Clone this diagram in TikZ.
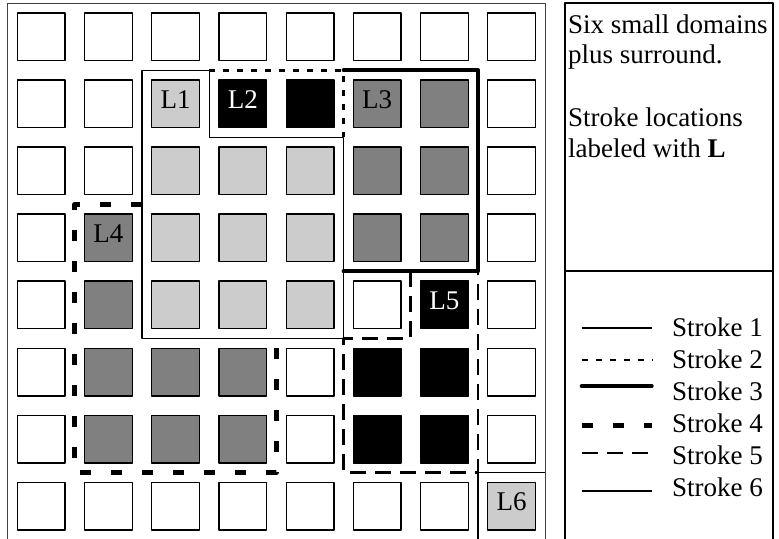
\documentclass[tikz,border=0pt]{standalone}
\usepackage{fontspec}
\setmainfont{Liberation Serif}

\definecolor{fillw}{gray}{1}
\definecolor{filll}{gray}{0.8}
\definecolor{filld}{gray}{0.5}
\definecolor{fillk}{gray}{0}

\tikzset{
  cell/.style={draw, line width=1.3pt, minimum size=47.7pt, inner sep=0pt},
  tag/.style={inner sep=0pt, yshift=4pt},
  note/.style={anchor=base west, inner sep=0pt},
  frame/.style={line width=1pt, black!75},
  panel/.style={line width=2pt},
  strokeone/.style={line width=1.3pt},
  stroketwo/.style={line width=2.7pt, dash pattern=on 6pt off 8pt},
  strokethree/.style={line width=4pt, line cap=round},
  strokefour/.style={line width=5pt, dash pattern=on 11pt off 20pt},
  strokefive/.style={line width=2.7pt, dash pattern=on 16pt off 9pt},
  strokesix/.style={line width=1.3pt}
}

\begin{document}
\begin{tikzpicture}[x=67.2pt, y=-67.06pt, line join=round,
    font=\fontsize{27pt}{32pt}\selectfont]
  \useasboundingbox (-0.1131,-0.0473) rectangle (11.479,7.990);

  % surround and side panel
  \draw[frame] (0,8.1) -- (0,0) -- (8,0) -- (8,8.1);
  \draw[panel] (8.295,8.1) -- (8.295,0) -- (11.394,0) -- (11.394,8.1);
  \draw[panel] (8.295,4) -- (11.394,4);

  % cells, one list per row
  \foreach \row [count=\j from 0] in {
      {w,w,w,w,w,w,w,w},
      {w,w,l,k,k,d,d,w},
      {w,w,l,l,l,d,d,w},
      {w,d,l,l,l,d,d,w},
      {w,d,l,l,l,w,k,w},
      {w,d,d,d,w,k,k,w},
      {w,d,d,d,w,k,k,w},
      {w,w,w,w,w,w,w,l}} {
    \foreach \f [count=\i from 0] in \row
      \node[cell, fill=fill\f] (c\i\j) at (\i+0.5,\j+0.5) {};
  }

  % stroke locations
  \node[tag] (l1) at (c21) {L1};
  \node[tag, text=white] (l2) at (c31) {L2};
  \node[tag] (l3) at (c51) {L3};
  \node[tag] (l4) at (c13) {L4};
  \node[tag, text=white] (l5) at (c64) {L5};
  \node[tag] (l6) at (c77) {L6};

  % domain outlines
  \draw[strokeone] (2,1) -- (3,1) -- (3,2) -- (5,2) -- (5,5) -- (2,5) -- cycle;
  \draw[stroketwo] (3,1) -- (5,1) -- (5,2);
  \draw[strokethree] (5,1) -- (7,1) -- (7,4) -- (5,4);
  \draw[strokefour] (2,3) -- (1,3) -- (1,7) -- (4,7) -- (4,5);
  \draw[strokefive] (6,4) -- (6,5) -- (5,5) -- (5,7) -- (7,7) -- (7,4);
  \draw[strokesix] (7,8.1) -- (7,7) -- (8,7);

  % notes
  \node[note] (note1) at (8.339,0.445) {Six small domains};
  \node[note] (note2) at (8.339,0.907) {plus surround.};
  \node[note] (note3) at (8.339,1.832) {Stroke locations};
  \node[note] (note4) at (8.339,2.294) {labeled with \textbf{L}};

  % legend
  \foreach \k/\s/\h in {1/strokeone/4.844, 2/stroketwo/5.321,
      3/strokethree/5.709, 4/strokefour/6.305,
      5/strokefive/6.708, 6/strokesix/7.275} {
    \node[note] (key\k) at (9.887,{4.974+0.4772*(\k-1)}) {Stroke \k};
    \draw[\s] (8.543,\h) -- (9.585,\h);
  }
\end{tikzpicture}
\end{document}
